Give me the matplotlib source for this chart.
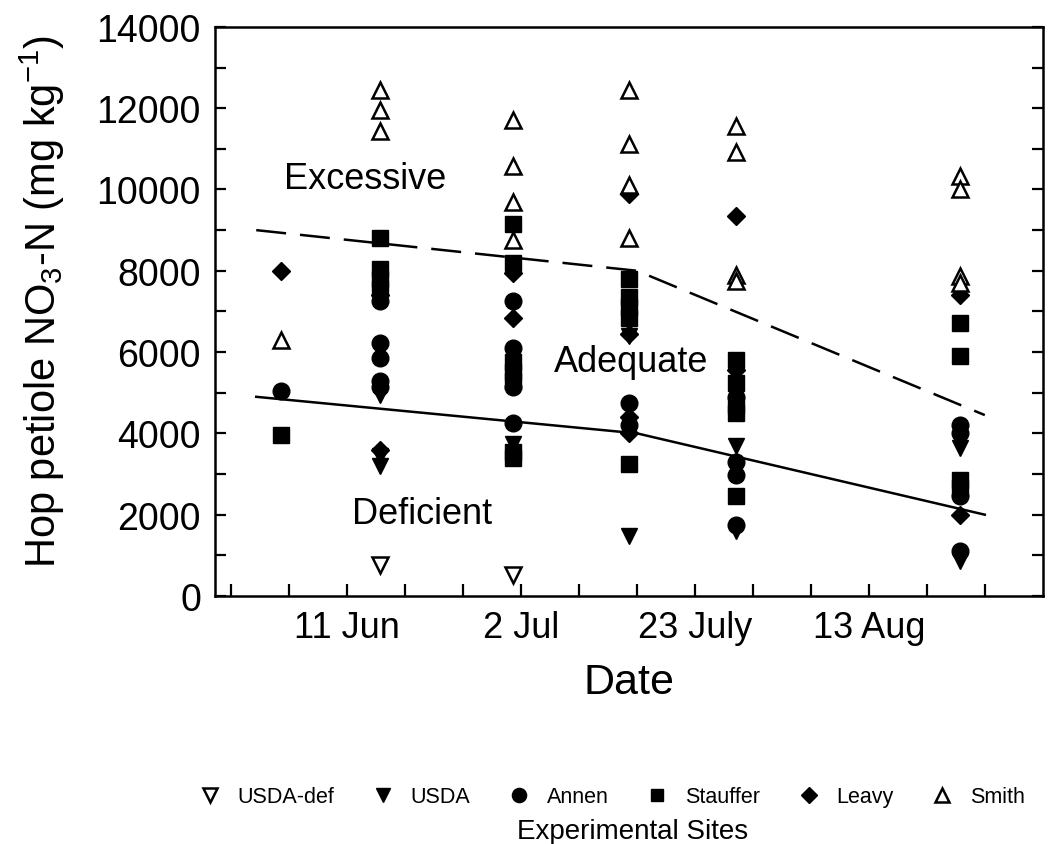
import matplotlib
matplotlib.use("Agg")
import matplotlib.pyplot as plt
import matplotlib.ticker as mticker
import numpy as np

plt.rcParams['font.family'] = ['Liberation Sans', 'DejaVu Sans']
plt.rcParams['mathtext.fontset'] = 'custom'
plt.rcParams['mathtext.rm'] = 'Liberation Sans'
plt.rcParams['mathtext.it'] = 'Liberation Sans:italic'

# sampling dates as day of year
usda_def_x = [166, 182]
usda_def_y = [760, 520]

usda_x = [166, 166, 166, 182, 196, 196, 209, 209, 236, 236]
usda_y = [4950, 3450, 3200, 3750, 6400, 1480, 3700, 1600, 3650, 850]

annen_x = [154, 166, 166, 166, 166, 166, 182, 182, 182, 182, 196, 196,
           209, 209, 209, 209, 236, 236, 236, 236]
annen_y = [5050, 7250, 6220, 5850, 5300, 5150, 7250, 6100, 5150, 4250, 4750, 4200,
           4900, 3300, 2970, 1750, 4200, 4000, 2450, 1100]

stauffer_x = [154, 166, 166, 166, 166, 182, 182, 182, 182, 182, 182, 182,
              196, 196, 196, 196, 196, 209, 209, 209, 209, 209, 236, 236, 236, 236]
stauffer_y = [3950, 8800, 8050, 7800, 7550, 9160, 8180, 5750, 5500, 5300, 3550, 3400,
              7800, 7350, 7100, 6850, 3250, 5800, 5250, 4700, 4500, 2450, 6710, 5900, 2850, 2650]

leavy_x = [154, 166, 166, 182, 182, 196, 196, 196, 196, 209, 209, 236, 236]
leavy_y = [8000, 7400, 3600, 7950, 6830, 9900, 6450, 4400, 4000, 9340, 5550, 7400, 2000]

smith_x = [154, 166, 166, 166, 182, 182, 182, 182, 196, 196, 196, 196,
           209, 209, 209, 209, 236, 236, 236, 236]
smith_y = [6300, 12450, 11950, 11450, 11700, 10570, 9700, 8750, 12450, 11130, 10100, 8800,
           11550, 10930, 7900, 7750, 10320, 10020, 7860, 7700]

# critical value lines
upper_x = [151, 197, 239]
upper_y = [9000, 8000, 4450]
lower_x = [151, 197, 239]
lower_y = [4900, 4000, 2000]

tick_days = np.arange(148, 240, 7)
label_days = [162, 183, 204, 225]
label_text = ["11 Jun", "2 Jul", "23 July", "13 Aug"]

fig = plt.figure(figsize=(10.48, 8.45), dpi=100)
ax = fig.add_axes([0.205, 0.2935, 0.79, 0.6735])

ax.plot(lower_x, lower_y, color='black', lw=1.8)
dl, = ax.plot(upper_x, upper_y, color='black', lw=1.8)
dl.set_dashes((12, 5.6))

ms = 12
ax.plot(stauffer_x, stauffer_y, 's', color='black', ms=ms - 1, label='Stauffer')
ax.plot(annen_x, annen_y, 'o', color='black', ms=ms, label='Annen')
ax.plot(leavy_x, leavy_y, 'D', color='black', ms=ms - 3, label='Leavy')
ax.plot(usda_x, usda_y, 'v', color='black', ms=ms, label='USDA')
ax.plot(usda_def_x, usda_def_y, 'v', mfc='white', mec='black', mew=1.8, ms=ms, label='USDA-def')
ax.plot(smith_x, smith_y, '^', mfc='white', mec='black', mew=1.8, ms=ms, label='Smith')

ax.text(164.2, 10270, "Excessive", fontsize=26, ha='center', va='center')
ax.text(196.3, 5770, "Adequate", fontsize=26, ha='center', va='center')
ax.text(171, 2040, "Deficient", fontsize=26, ha='center', va='center')

ax.set_xlim(146, 246)
ax.set_ylim(0, 14000)
ax.set_xticks(tick_days, minor=True)
ax.set_xticks(label_days)
ax.set_xticklabels(label_text, fontsize=26)
ax.yaxis.set_major_locator(mticker.MultipleLocator(2000))
ax.yaxis.set_minor_locator(mticker.MultipleLocator(1000))
ax.tick_params(axis='y', which='both', direction='in', length=8, width=1.6,
               left=True, right=True, labelsize=27, pad=10)
ax.tick_params(axis='x', which='both', direction='in', length=9, width=1.6,
               top=False, labelsize=26, pad=10)
for s in ax.spines.values():
    s.set_linewidth(1.8)

ax.set_xlabel("Date", fontsize=31, labelpad=12)
ax.set_ylabel("Hop petiole NO$_3$-N (mg kg$^{-1}$)", fontsize=30)
ax.yaxis.set_label_coords(-0.178, 0.52)

order = ['USDA-def', 'USDA', 'Annen', 'Stauffer', 'Leavy', 'Smith']
h, l = ax.get_legend_handles_labels()
hd = dict(zip(l, h))
fig.legend([hd[k] for k in order], order, loc='center', ncol=6, frameon=False,
           bbox_to_anchor=(612 / 1048, 1 - 798 / 845), fontsize=15.5,
           markerscale=0.85, handlelength=1.0, handletextpad=0.8, columnspacing=1.75)
fig.text(633 / 1048, 1 - 832 / 845, "Experimental Sites", ha='center', va='center',
         fontsize=20)

fig.savefig("out.png", dpi=100)
